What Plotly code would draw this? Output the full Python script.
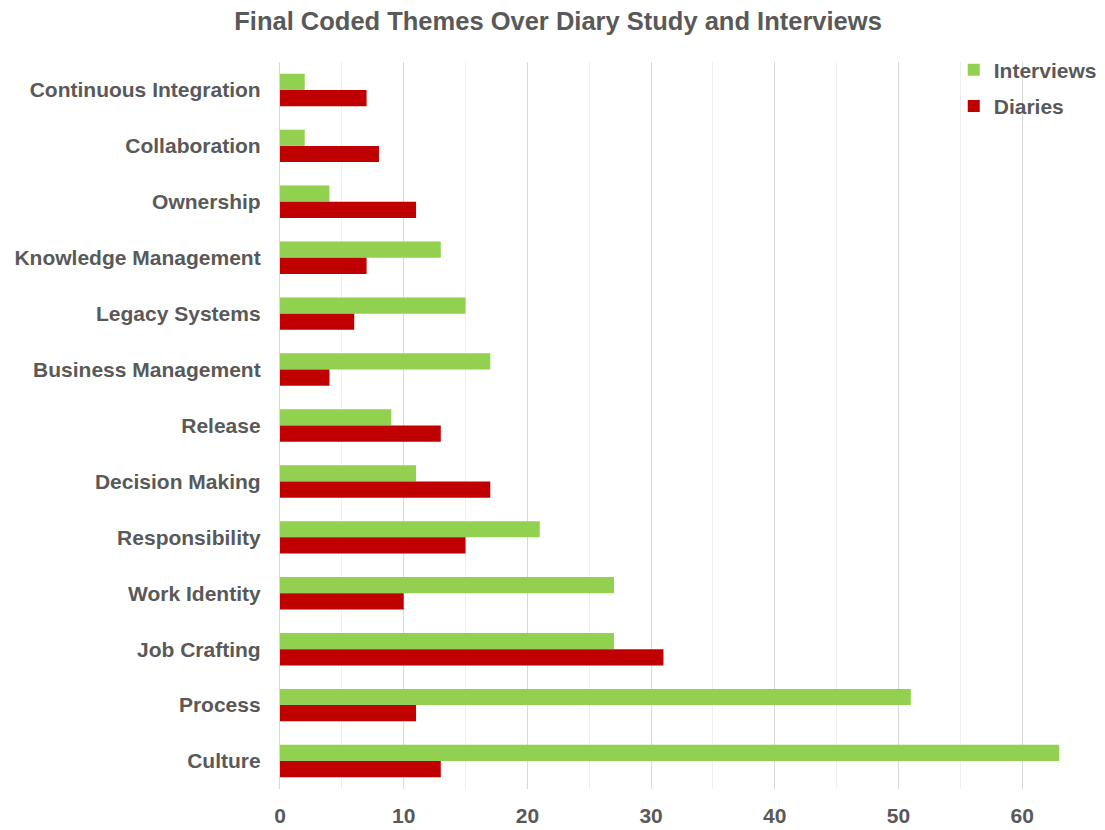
import plotly.graph_objects as go

# Coded themes, listed top to bottom
themes = [
    "Continuous Integration", "Collaboration", "Ownership", "Knowledge Management",
    "Legacy Systems", "Business Management", "Release", "Decision Making",
    "Responsibility", "Work Identity", "Job Crafting", "Process", "Culture",
]
interviews = [2, 2, 4, 13, 15, 17, 9, 11, 21, 27, 27, 51, 63]
diaries = [7, 8, 11, 7, 6, 4, 13, 17, 15, 10, 31, 11, 13]

x_ticks = [0, 10, 20, 30, 40, 50, 60]

TEXT = "#595959"
FONT = "Liberation Sans, Arial, sans-serif"

fig = go.Figure()
fig.add_trace(go.Bar(
    name="Interviews", y=themes, x=interviews, orientation="h",
    marker=dict(color="#92D050", line=dict(width=0)),
    legendgroup="i",
))
fig.add_trace(go.Bar(
    name="Diaries", y=themes, x=diaries, orientation="h",
    marker=dict(color="#C00000", line=dict(width=0)),
    legendgroup="d",
))

fig.update_layout(
    width=1105, height=830,
    margin=dict(l=280, r=21, t=62, b=41, autoexpand=False),
    paper_bgcolor="white", plot_bgcolor="white",
    barmode="group", bargap=0.42, bargroupgap=0,
    font=dict(family=FONT, color=TEXT, size=21),
    title=dict(
        text="<b>Final Coded Themes Over Diary Study and Interviews</b>",
        x=0.505, xref="container", xanchor="center",
        y=0.975, yref="container", yanchor="middle",
        font=dict(size=25.5, color=TEXT, family=FONT),
    ),
    legend=dict(
        x=0.838, y=1.017, xanchor="left", yanchor="top",
        bgcolor="rgba(255,255,255,0)",
        font=dict(size=21, color=TEXT, family=FONT, weight="bold"),
        itemwidth=30,
        tracegroupgap=6,
    ),
    showlegend=True,
)

fig.update_xaxes(
    range=[0, 65],
    tickvals=x_ticks,
    ticktext=[f"<b>{v}</b>" for v in x_ticks],
    showgrid=True, gridcolor="#D9D9D9", gridwidth=1.3,
    minor=dict(dtick=5, showgrid=True, gridcolor="#EFEFEF", gridwidth=1.3),
    zeroline=False, showline=False,
    ticks="", tickfont=dict(size=21, color=TEXT, family=FONT),
    ticklabelstandoff=12,
)
fig.update_yaxes(
    autorange="reversed",
    tickvals=themes,
    ticktext=[f"<b>{t}</b>" for t in themes],
    showgrid=False, zeroline=False,
    showline=True, linecolor="#D9D9D9", linewidth=1.3,
    ticks="", tickfont=dict(size=21, color=TEXT, family=FONT),
    ticklabelstandoff=14,
)

fig.write_html("out.html")
